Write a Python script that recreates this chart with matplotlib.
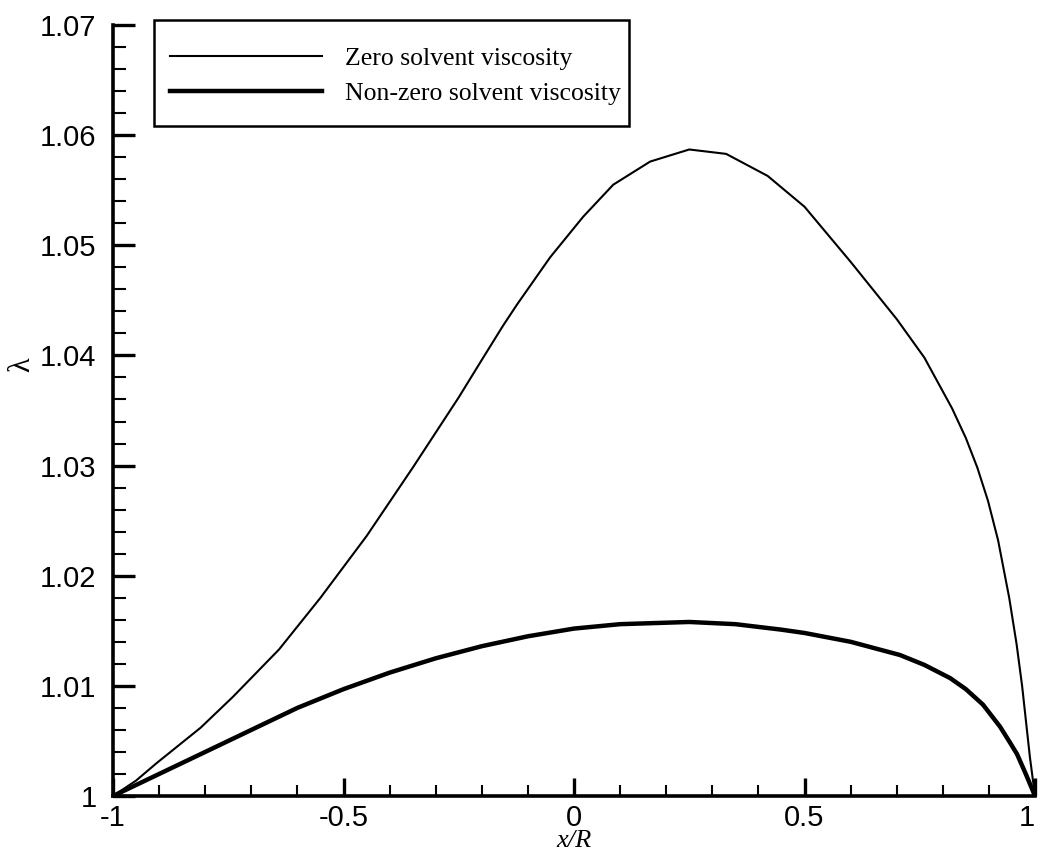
import numpy as np
import matplotlib
matplotlib.use('Agg')
import matplotlib.pyplot as plt
from matplotlib.patches import Rectangle
from matplotlib.ticker import MultipleLocator, FuncFormatter

# data
x_zero = [-1.0, -0.95, -0.905, -0.81, -0.74, -0.64, -0.55, -0.45, -0.35, -0.25, -0.2, -0.154,
          -0.124, -0.052, 0.02, 0.085, 0.165, 0.25, 0.33, 0.42, 0.5, 0.6, 0.7, 0.76, 0.82,
          0.85, 0.875, 0.898, 0.92, 0.944, 0.96, 0.972, 0.989, 1.0]
y_zero = [1.0, 1.0014, 1.003, 1.0062, 1.009, 1.0133, 1.018, 1.0236, 1.0298, 1.0362, 1.0396, 1.0427,
          1.0446, 1.0489, 1.0526, 1.0555, 1.0576, 1.0587, 1.0583, 1.0563, 1.0535, 1.0485, 1.0433, 1.0398,
          1.0352, 1.0325, 1.0298, 1.0268, 1.0232, 1.018, 1.0138, 1.010, 1.0035, 1.0]

x_nonzero = [-1.0, -0.9, -0.8, -0.74, -0.6, -0.5, -0.4, -0.3, -0.2, -0.1, 0.0, 0.1, 0.25, 0.35,
             0.45, 0.5, 0.6, 0.707, 0.76, 0.816, 0.85, 0.887, 0.924, 0.945, 0.961, 0.98, 1.0]
y_nonzero = [1.0, 1.002, 1.004, 1.0052, 1.008, 1.0097, 1.0112, 1.0125, 1.0136, 1.0145, 1.0152, 1.0156,
             1.0158, 1.0156, 1.0151, 1.0148, 1.014, 1.0128, 1.0119, 1.0107, 1.0097, 1.0083, 1.0063,
             1.0049, 1.0038, 1.002, 1.0]

labels = ['Zero solvent viscosity', 'Non-zero solvent viscosity']

plt.rcParams['axes.unicode_minus'] = False
plt.rcParams['font.family'] = ['Liberation Sans', 'DejaVu Sans']

fig = plt.figure(figsize=(10.4, 8.57), dpi=100)
ax = fig.add_axes([0.1087, 0.0712, 0.8865, 0.8996])

ax.plot(x_zero, y_zero, color='black', lw=1.5, label=labels[0])
ax.plot(x_nonzero, y_nonzero, color='black', lw=3.2, label=labels[1])

ax.set_xlim(-1, 1)
ax.set_ylim(1, 1.07)
ax.spines['top'].set_visible(False)
ax.spines['right'].set_visible(False)
ax.spines['left'].set_linewidth(2.6)
ax.spines['bottom'].set_linewidth(2.6)

ax.xaxis.set_major_locator(MultipleLocator(0.5))
ax.xaxis.set_minor_locator(MultipleLocator(0.1))
ax.yaxis.set_major_locator(MultipleLocator(0.01))
ax.yaxis.set_minor_locator(MultipleLocator(0.002))
fmt = FuncFormatter(lambda v, p: '%g' % round(v, 4))
ax.xaxis.set_major_formatter(fmt)
ax.yaxis.set_major_formatter(fmt)

ax.tick_params(axis='x', which='major', direction='in', length=13, width=2.4, labelsize=21, pad=6)
ax.tick_params(axis='x', which='minor', direction='in', length=8, width=1.5)
ax.tick_params(axis='y', which='major', direction='in', length=16, width=2.4, labelsize=21, pad=12)
ax.tick_params(axis='y', which='minor', direction='in', length=9.5, width=1.5)

ax.set_xlabel('x/R', family='Liberation Serif', style='italic', fontsize=19)
ax.xaxis.set_label_coords(0.5, -0.044)
ax.set_ylabel('λ', family='Liberation Serif', fontsize=22)
ax.yaxis.set_label_coords(-0.083, 0.56)

# keep the x tick label "1" inside the figure
fig.canvas.draw()
for t in ax.xaxis.get_major_ticks():
    if abs(t.get_loc() - 1.0) < 1e-9:
        t.label1.set_horizontalalignment('right')

# legend box drawn separately (reference has uneven padding)
box = Rectangle((0.0445, 0.869), 0.5152, 0.1375, transform=ax.transAxes, clip_on=False,
                facecolor='white', edgecolor='black', lw=1.8, zorder=4)
ax.add_patch(box)
leg = ax.legend(loc='upper left', bbox_to_anchor=(0.0618, 0.9715), borderaxespad=0, borderpad=0,
                prop={'family': 'Liberation Serif', 'size': 18.5}, handlelength=5.9,
                handletextpad=0.9, labelspacing=0.48, frameon=False)
leg.set_zorder(5)

fig.savefig('out.png', dpi=100)
